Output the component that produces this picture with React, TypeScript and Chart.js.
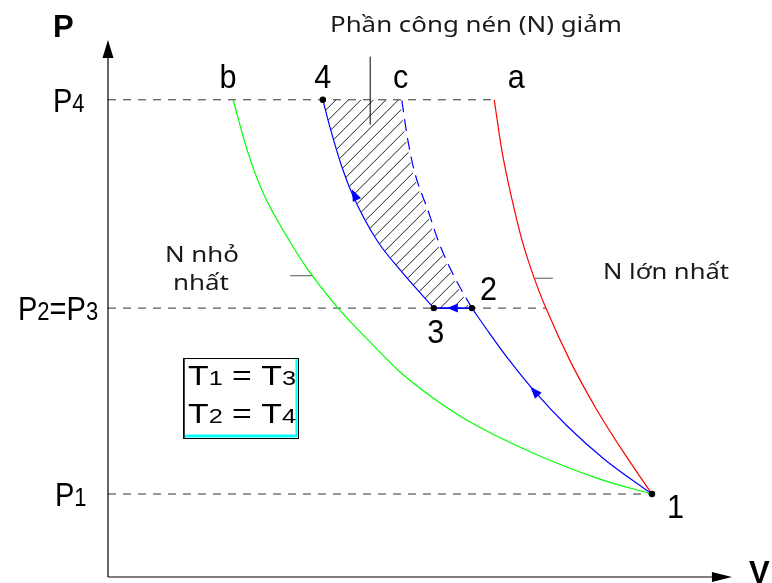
import React, { useEffect, useRef } from 'react';
import { Chart, registerables } from 'chart.js';

Chart.register(...registerables);

// Schematic units: V1 = 10, P1 = 1
const V_RANGE = [-1.985, 12.206];
const P_RANGE = [-0.072, 6.952];
const AXIS_TOP_P = 6.47;
const AXIS_RIGHT_V = 11.47;

const pressureLevels = [1.0, 3.24, 5.75];
const pressureLabels = ['P_1', 'P_2=P_3', 'P_4'];
const pressureLineEndV = [10.0, 8.05, 7.1];

// curve a (red) – N largest
const curveA_V = [7.1, 7.24, 7.43, 7.61, 7.83, 8.05, 8.49, 8.99, 9.47, 10.0];
const curveA_P = [5.75, 5.14, 4.54, 4.06, 3.61, 3.24, 2.61, 2.01, 1.51, 1.0];
// curve b (green) – N smallest
const curveB_V = [2.3, 2.56, 2.85, 3.29, 3.68, 4.23, 4.82, 5.37, 5.97, 6.6, 7.76, 9.04, 10.0];
const curveB_P = [5.75, 5.14, 4.63, 4.1, 3.7, 3.24, 2.83, 2.47, 2.16, 1.89, 1.51, 1.18, 1.0];
// compression 1 -> 2
const comp12_V = [10.0, 9.14, 8.44, 7.85, 7.39, 7.02, 6.69];
const comp12_P = [1.0, 1.41, 1.82, 2.23, 2.6, 2.93, 3.24];
// intercooling 2 -> 3
const cool23_V = [6.69, 5.99];
const cool23_P = [3.24, 3.24];
// compression 3 -> 4
const comp34_V = [5.99, 5.37, 4.94, 4.5, 4.3, 4.08, 3.95];
const comp34_P = [3.24, 3.7, 4.06, 4.6, 4.94, 5.42, 5.75];
// curve c (dashed blue) 2 -> c
const curveC_V = [6.69, 6.38, 6.1, 5.88, 5.64, 5.51, 5.4];
const curveC_P = [3.24, 3.6, 4.0, 4.42, 4.87, 5.27, 5.75];

const stateNames = ['1', '2', '3', '4'];
const stateV = [10.0, 6.69, 5.99, 3.95];
const stateP = [1.0, 3.24, 3.24, 5.75];

const curveNames = ['a', 'b', 'c'];
const curveTopV = [7.1, 2.3, 5.4];

const boxLines = ['T_1 = T_3', 'T_2 = T_4'];
const noteTitle = 'Phần công nén (N) giảm';
const noteMax = 'N lớn nhất';
const noteMin = ['N nhỏ', 'nhất'];
const axisNames = ['P', 'V'];

// annotation anchors
const titleMarkV = 4.82;
const titleMarkP = [5.45, 6.27];
const leaderMinV = [3.35, 3.75];
const leaderMinP = 3.63;
const leaderMaxV = [7.85, 8.18];
const leaderMaxP = 3.6;
const arrowTipV23 = 6.23;

const pts = (vs: number[], ps: number[]) => vs.map((v, i) => ({ x: v, y: ps[i] }));

type Seg = { t: string; sub: boolean };
function parseRich(s: string): Seg[] {
  const segs: Seg[] = [];
  for (let i = 0; i < s.length; i++) {
    if (s[i] === '_' && i + 1 < s.length) {
      segs.push({ t: s[i + 1], sub: true });
      i++;
    } else {
      const last = segs[segs.length - 1];
      if (last && !last.sub) last.t += s[i];
      else segs.push({ t: s[i], sub: false });
    }
  }
  return segs;
}

type RichOpts = {
  size: number;
  sub?: number;
  family: string;
  weight?: string;
  width?: number;
  scaleX?: number;
  align?: 'left' | 'center' | 'right';
  color?: string;
};

function drawRich(ctx: CanvasRenderingContext2D, s: string, x: number, y: number, o: RichOpts) {
  const segs = parseRich(s);
  const fnt = (sub: boolean) =>
    `${o.weight || 'normal'} ${sub ? o.sub || o.size * 0.75 : o.size}px "${o.family}"`;
  let w = 0;
  const ws: number[] = [];
  for (const sg of segs) {
    ctx.font = fnt(sg.sub);
    const m = ctx.measureText(sg.t).width;
    ws.push(m);
    w += m;
  }
  let sx = o.scaleX ?? 1;
  if (o.width) sx = o.width / w;
  const total = w * sx;
  let left = x;
  if (o.align === 'center') left = x - total / 2;
  else if (o.align === 'right') left = x - total;
  ctx.save();
  ctx.translate(left, y);
  ctx.scale(sx, 1);
  ctx.fillStyle = o.color || '#000';
  ctx.textBaseline = 'alphabetic';
  ctx.textAlign = 'left';
  let cx = 0;
  segs.forEach((sg, i) => {
    ctx.font = fnt(sg.sub);
    ctx.fillText(sg.t, cx, 0);
    cx += ws[i];
  });
  ctx.restore();
}

function arrowHead(ctx: CanvasRenderingContext2D, tx: number, ty: number, dx: number, dy: number, len: number, half: number, color: string) {
  const l = Math.hypot(dx, dy) || 1;
  const ux = dx / l, uy = dy / l;
  const bx = tx - ux * len, by = ty - uy * len;
  ctx.save();
  ctx.fillStyle = color;
  ctx.beginPath();
  ctx.moveTo(tx, ty);
  ctx.lineTo(bx - uy * half, by + ux * half);
  ctx.lineTo(bx + uy * half, by - ux * half);
  ctx.closePath();
  ctx.fill();
  ctx.restore();
}

const schematicPlugin = {
  id: 'schematic',
  beforeDatasetsDraw(chart: any) {
    const ctx: CanvasRenderingContext2D = chart.ctx;
    const xs = chart.scales.x, ys = chart.scales.y;
    const px = (v: number) => xs.getPixelForValue(v);
    const py = (p: number) => ys.getPixelForValue(p);
    ctx.save();
    ctx.beginPath();
    comp34_V.forEach((v, i) => {
      const X = px(v), Y = py(comp34_P[i]);
      if (i) ctx.lineTo(X, Y);
      else ctx.moveTo(X, Y);
    });
    for (let i = curveC_V.length - 1; i >= 0; i--) ctx.lineTo(px(curveC_V[i]) - 2, py(curveC_P[i]));
    ctx.closePath();
    ctx.clip();
    const xmin = px(3.5), xmax = px(7.2), ymin = py(6.2), ymax = py(3.0);
    ctx.strokeStyle = '#222';
    ctx.lineWidth = 1;
    ctx.beginPath();
    for (let c = xmin + ymin; c <= xmax + ymax; c += 12.5) {
      ctx.moveTo(xmin, c - xmin);
      ctx.lineTo(xmax, c - xmax);
    }
    ctx.stroke();
    ctx.restore();
  },
  afterDatasetsDraw(chart: any) {
    const ctx: CanvasRenderingContext2D = chart.ctx;
    const xs = chart.scales.x, ys = chart.scales.y;
    const px = (v: number) => xs.getPixelForValue(v);
    const py = (p: number) => ys.getPixelForValue(p);
    const ox = px(0), oy = py(0);

    // axes
    ctx.save();
    ctx.strokeStyle = '#000';
    ctx.lineWidth = 1.2;
    ctx.beginPath();
    ctx.moveTo(ox, oy);
    ctx.lineTo(ox, py(AXIS_TOP_P) + 10);
    ctx.moveTo(ox, oy);
    ctx.lineTo(px(AXIS_RIGHT_V) - 10, oy);
    ctx.stroke();
    ctx.restore();
    arrowHead(ctx, ox, py(AXIS_TOP_P), 0, -1, 18, 5.5, '#000');
    arrowHead(ctx, px(AXIS_RIGHT_V), oy, 1, 0, 20, 5, '#000');

    drawRich(ctx, axisNames[0], ox - 55, py(AXIS_TOP_P) - 3, { size: 31, family: 'Liberation Sans', weight: 'bold' });
    drawRich(ctx, axisNames[1], px(AXIS_RIGHT_V) + 17, oy + 6, { size: 31, family: 'Liberation Sans', weight: 'bold' });

    // pressure labels
    const pLeft = [ox - 53, ox - 90, ox - 55];
    pressureLabels.forEach((lab, i) => {
      drawRich(ctx, lab, pLeft[i], py(pressureLevels[i]) + 12, { size: 33, sub: 25, family: 'Liberation Sans', scaleX: 0.88 });
    });

    // arrows on curves
    const blue = '#0000ff';
    {
      const i = 3;
      const a = { x: px(comp12_V[i - 1]), y: py(comp12_P[i - 1]) };
      const b = { x: px(comp12_V[i + 1]), y: py(comp12_P[i + 1]) };
      const l = Math.hypot(b.x - a.x, b.y - a.y);
      arrowHead(ctx, px(comp12_V[i]) + ((b.x - a.x) / l) * 7, py(comp12_P[i]) + ((b.y - a.y) / l) * 7, b.x - a.x, b.y - a.y, 12, 4.5, blue);
    }
    {
      const i = 3;
      const a = { x: px(comp34_V[i - 1]), y: py(comp34_P[i - 1]) };
      const b = { x: px(comp34_V[i + 1]), y: py(comp34_P[i + 1]) };
      arrowHead(ctx, px(comp34_V[i]) - 1, py(comp34_P[i]) - 6, b.x - a.x, b.y - a.y, 12, 4.5, blue);
    }
    arrowHead(ctx, px(arrowTipV23), py(cool23_P[0]), -1, 0, 11, 4.5, blue);

    // state points
    ctx.save();
    ctx.fillStyle = '#000';
    stateV.forEach((v, i) => {
      ctx.beginPath();
      ctx.arc(px(v), py(stateP[i]), 3.2, 0, Math.PI * 2);
      ctx.fill();
    });
    ctx.restore();
    const stOpts = { size: 34, family: 'Liberation Sans', scaleX: 0.9 };
    drawRich(ctx, stateNames[0], px(stateV[0]) + 15, py(stateP[0]) + 24, { ...stOpts, align: 'left' });
    drawRich(ctx, stateNames[1], px(stateV[1]) + 8, py(stateP[1]) - 8, { ...stOpts, align: 'left' });
    drawRich(ctx, stateNames[2], px(stateV[2]) + 2, py(stateP[2]) + 35, { ...stOpts, align: 'center' });
    drawRich(ctx, stateNames[3], px(stateV[3]), py(stateP[3]) - 12, { ...stOpts, align: 'center' });

    const topP = pressureLevels[2];
    const nameDx = [22, -5, -1];
    curveNames.forEach((n, i) => {
      drawRich(ctx, n, px(curveTopV[i]) + nameDx[i], py(topP) - 12, { ...stOpts, align: 'center' });
    });

    // annotation lines
    ctx.save();
    ctx.lineWidth = 1;
    ctx.strokeStyle = '#000';
    ctx.beginPath();
    ctx.moveTo(px(titleMarkV), py(titleMarkP[0]));
    ctx.lineTo(px(titleMarkV), py(titleMarkP[1]));
    ctx.stroke();
    ctx.strokeStyle = '#555';
    ctx.beginPath();
    ctx.moveTo(px(leaderMinV[0]), py(leaderMinP));
    ctx.lineTo(px(leaderMinV[1]), py(leaderMinP));
    ctx.moveTo(px(leaderMaxV[0]), py(leaderMaxP));
    ctx.lineTo(px(leaderMaxV[1]), py(leaderMaxP));
    ctx.stroke();
    ctx.restore();

    const noteFont = { size: 21, family: 'Noto Sans', color: '#1a1a1a' };
    drawRich(ctx, noteTitle, ox + 222, 32, { ...noteFont, size: 22, width: 292 });
    drawRich(ctx, noteMax, ox + 495, py(leaderMaxP) + 1, { ...noteFont, width: 126 });
    drawRich(ctx, noteMin[0], ox + 57, py(leaderMinP) - 14, { ...noteFont, width: 74 });
    drawRich(ctx, noteMin[1], ox + 65, py(leaderMinP) + 14, { ...noteFont, width: 56 });

    // temperature box
    const bx = ox + 75, by = oy - 219, bw = 115, bh = 80;
    ctx.save();
    ctx.fillStyle = '#fff';
    ctx.fillRect(bx, by, bw, bh);
    ctx.strokeStyle = '#00ffff';
    ctx.lineWidth = 3;
    ctx.beginPath();
    ctx.moveTo(bx + 2, by + bh - 2);
    ctx.lineTo(bx + bw - 2, by + bh - 2);
    ctx.stroke();
    ctx.lineWidth = 2;
    ctx.beginPath();
    ctx.moveTo(bx + bw - 1.5, by + 1);
    ctx.lineTo(bx + bw - 1.5, by + bh - 1);
    ctx.stroke();
    ctx.strokeStyle = '#000';
    ctx.lineWidth = 1;
    ctx.strokeRect(bx + 0.5, by + 0.5, bw, bh);
    ctx.lineWidth = 1.5;
    ctx.beginPath();
    ctx.moveTo(bx + 1, by + 1);
    ctx.lineTo(bx + 1, by + bh);
    ctx.stroke();
    ctx.restore();
    drawRich(ctx, boxLines[0], bx + 5, by + 27, { size: 28, sub: 21, family: 'Liberation Sans', width: 108 });
    drawRich(ctx, boxLines[1], bx + 5, by + 65, { size: 28, sub: 21, family: 'Liberation Sans', width: 108 });
  },
};

export default function App() {
  const ref = useRef<HTMLCanvasElement | null>(null);
  useEffect(() => {
    if (!ref.current) return;
    const lineDs = (label: string, data: any[], color: string, extra: any = {}) => ({
      label,
      data,
      showLine: true,
      borderColor: color,
      backgroundColor: color,
      borderWidth: 1.2,
      pointRadius: 0,
      cubicInterpolationMode: 'monotone',
      fill: false,
      ...extra,
    });
    const refDs = pressureLevels.map((p, i) =>
      lineDs('P' + i, [{ x: 0, y: p }, { x: pressureLineEndV[i], y: p }], '#333', {
        borderDash: [8, 7],
        borderWidth: 1,
        cubicInterpolationMode: 'default',
        tension: 0,
      })
    );
    const chart = new Chart(ref.current, {
      type: 'scatter',
      data: {
        datasets: [
          lineDs('a', pts(curveA_V, curveA_P), '#ff0000'),
          lineDs('b', pts(curveB_V, curveB_P), '#00ff00'),
          lineDs('1-2', pts(comp12_V, comp12_P), '#0000ff'),
          lineDs('2-3', pts(cool23_V, cool23_P), '#0000ff', { cubicInterpolationMode: 'default', tension: 0, borderWidth: 1.6 }),
          lineDs('3-4', pts(comp34_V, comp34_P), '#0000ff'),
          lineDs('c', pts(curveC_V, curveC_P), '#0000ff', { borderDash: [12, 7] }),
          ...refDs,
        ],
      },
      options: {
        animation: false,
        responsive: false,
        layout: { padding: 0 },
        plugins: { legend: { display: false }, tooltip: { enabled: false } },
        scales: {
          x: { type: 'linear', min: V_RANGE[0], max: V_RANGE[1], display: false },
          y: { type: 'linear', min: P_RANGE[0], max: P_RANGE[1], display: false },
        },
      },
      plugins: [schematicPlugin],
    });
    return () => chart.destroy();
  }, []);
  return (
    <div style={{ position: 'absolute', left: 0, top: 0, width: 772, height: 583, background: '#fff' }}>
      <canvas ref={ref} width={772} height={583} />
    </div>
  );
}
